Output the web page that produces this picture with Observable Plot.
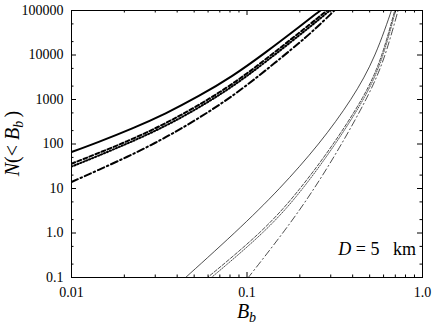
<!DOCTYPE html>
<html><head><meta charset="utf-8">
<script src="https://cdn.jsdelivr.net/npm/d3@7"></script>
<script src="https://cdn.jsdelivr.net/npm/@observablehq/plot@0.6"></script>
<style>body{margin:0;background:#fff;}</style>
</head><body><div id="chart"></div>
<script>
// ---- tick values and labels ----
const xMajor = [0.01, 0.1, 1];
const xMajorLabels = ["0.01", "0.1", "1.0"];
const xMinor = [0.02,0.03,0.04,0.05,0.06,0.07,0.08,0.09,0.2,0.3,0.4,0.5,0.6,0.7,0.8,0.9];
const yMajor = [0.1, 1, 10, 100, 1000, 10000, 100000];
const yMajorLabels = ["0.1", "1.0", "10", "100", "1000", "10000", "100000"];
const yMinor = [0.2,0.5,2,5,20,50,200,500,2000,5000,20000,50000];

// ---- thick curves (shared B_b values) ----
const thickB        = [0.01, 0.0143, 0.0222, 0.0344, 0.0531, 0.0824, 0.127, 0.197, 0.25, 0.3, 0.34];
const thickSolidN   = [66, 112, 225, 490, 1200, 3400, 11300, 42000, 87000, 152000, 230000];
const thickDashedN  = [36, 63, 130, 295, 756, 2250, 7900, 30900, 65400, 118000, 179000];
const thickDottedN  = [31, 55, 115, 259, 663, 1980, 6930, 27100, 57400, 104000, 157000];
const thickDashDotN = [14, 26.3, 58.6, 142, 385, 1210, 4450, 18340, 42000, 83000, 135000];

// ---- thin curves ----
const thinSolidB   = [0.037, 0.0447, 0.0847, 0.1529, 0.2551, 0.39, 0.535, 0.665, 0.7];
const thinSolidN   = [0.05, 0.1, 1, 10, 100, 1000, 10000, 100000, 180000];
const thinDashedB  = [0.05, 0.0596, 0.1173, 0.2003, 0.3094, 0.456, 0.5855, 0.6946, 0.73];
const thinDashedN  = [0.055, 0.1, 1, 10, 100, 1110, 10000, 100000, 195000];
const thinDottedB  = [0.053, 0.0627, 0.1222, 0.2075, 0.3177, 0.4658, 0.5947, 0.7027, 0.74];
const thinDottedN  = [0.056, 0.1, 1, 10, 100, 1110, 10000, 100000, 204000];
const thinDashDotB = [0.09, 0.1017, 0.1598, 0.241, 0.3453, 0.4824, 0.6109, 0.7255, 0.76];
const thinDashDotN = [0.054, 0.1, 1, 10, 100, 1110, 10000, 100000, 186000];

// ---- layout ----
const W = 433, H = 327, mL = 71, mR = 11, mT = 10, mB = 50;
const innerW = W - mL - mR, innerH = H - mT - mB;
const majLen = 5, minLen = 2.5;
const serif = "'Liberation Serif', 'Times New Roman', serif";

const series = [
  {B: thickB, N: thickSolidN, w: 2.0, dash: null},
  {B: thickB, N: thickDashedN, w: 2.0, dash: "4,2.5"},
  {B: thickB, N: thickDottedN, w: 2.0, dash: "1.2,2"},
  {B: thickB, N: thickDashDotN, w: 2.0, dash: "7,3,1.5,3"},
  {B: thinSolidB, N: thinSolidN, w: 0.7, dash: null},
  {B: thinDashedB, N: thinDashedN, w: 0.7, dash: "3.5,1.8"},
  {B: thinDottedB, N: thinDottedN, w: 0.7, dash: "1,1.4"},
  {B: thinDashDotB, N: thinDashDotN, w: 0.7, dash: "7,3,1.2,3"}
];

const lineMarks = series.map(s => Plot.line(d3.zip(s.B, s.N), {
  x: d => d[0], y: d => d[1], stroke: "black", strokeWidth: s.w,
  strokeDasharray: s.dash, curve: "natural", clip: true
}));

const xLab = new Map(xMajor.map((v, i) => [v, xMajorLabels[i]]));
const yLab = new Map(yMajor.map((v, i) => [v, yMajorLabels[i]]));

const chart = Plot.plot({
  width: W, height: H,
  marginLeft: mL, marginRight: mR, marginTop: mT, marginBottom: mB,
  x: {type: "log", domain: [0.01, 1]},
  y: {type: "log", domain: [0.1, 100000]},
  style: {fontFamily: serif, fontSize: "14px", color: "black", background: "white"},
  marks: [
    ...lineMarks,
    // inward ticks on all four sides
    Plot.tickX(xMajor, {x: d => d, insetTop: innerH - majLen, stroke: "black"}),
    Plot.tickX(xMajor, {x: d => d, insetBottom: innerH - majLen, stroke: "black"}),
    Plot.tickX(xMinor, {x: d => d, insetTop: innerH - minLen, stroke: "black"}),
    Plot.tickX(xMinor, {x: d => d, insetBottom: innerH - minLen, stroke: "black"}),
    Plot.tickY(yMajor, {y: d => d, insetRight: innerW - majLen, stroke: "black"}),
    Plot.tickY(yMajor, {y: d => d, insetLeft: innerW - majLen, stroke: "black"}),
    Plot.tickY(yMinor, {y: d => d, insetRight: innerW - minLen, stroke: "black"}),
    Plot.tickY(yMinor, {y: d => d, insetLeft: innerW - minLen, stroke: "black"}),
    Plot.axisX({ticks: xMajor, tickSize: 0, tickPadding: 10, tickFormat: d => xLab.get(d), label: null, fontSize: 14, fontFamily: serif}),
    Plot.axisY({ticks: yMajor, tickSize: 0, tickPadding: 8, tickFormat: d => yLab.get(d), label: null, fontSize: 14, fontFamily: serif}),
    Plot.frame({stroke: "black", strokeWidth: 1})
  ]
});

document.getElementById("chart").appendChild(chart);

// axis titles and annotation as real text
const svg = d3.select(chart);
const yt = svg.append("text")
  .attr("transform", `translate(19,${mT + innerH / 2}) rotate(-90)`)
  .attr("text-anchor", "middle").attr("font-family", serif).attr("font-size", 20).attr("fill", "black");
yt.append("tspan").attr("font-style", "italic").text("N");
yt.append("tspan").text("(<\u2005");
yt.append("tspan").attr("font-style", "italic").text("B");
yt.append("tspan").attr("font-style", "italic").attr("font-size", 14).attr("dy", 4).text("b");
yt.append("tspan").attr("dy", -4).text("\u2006)");

const xt = svg.append("text")
  .attr("x", mL + innerW / 2).attr("y", 318)
  .attr("text-anchor", "middle").attr("font-family", serif).attr("font-size", 20).attr("fill", "black");
xt.append("tspan").attr("font-style", "italic").text("B");
xt.append("tspan").attr("font-style", "italic").attr("font-size", 14).attr("dy", 4).text("b");

const ann = svg.append("text")
  .attr("x", W - mR - 6).attr("y", 255)
  .attr("text-anchor", "end").attr("font-family", serif).attr("font-size", 18).attr("fill", "black")
  .style("white-space", "pre");
ann.append("tspan").attr("font-style", "italic").text("D");
ann.append("tspan").text(" = 5   km");
</script>
</body></html>
